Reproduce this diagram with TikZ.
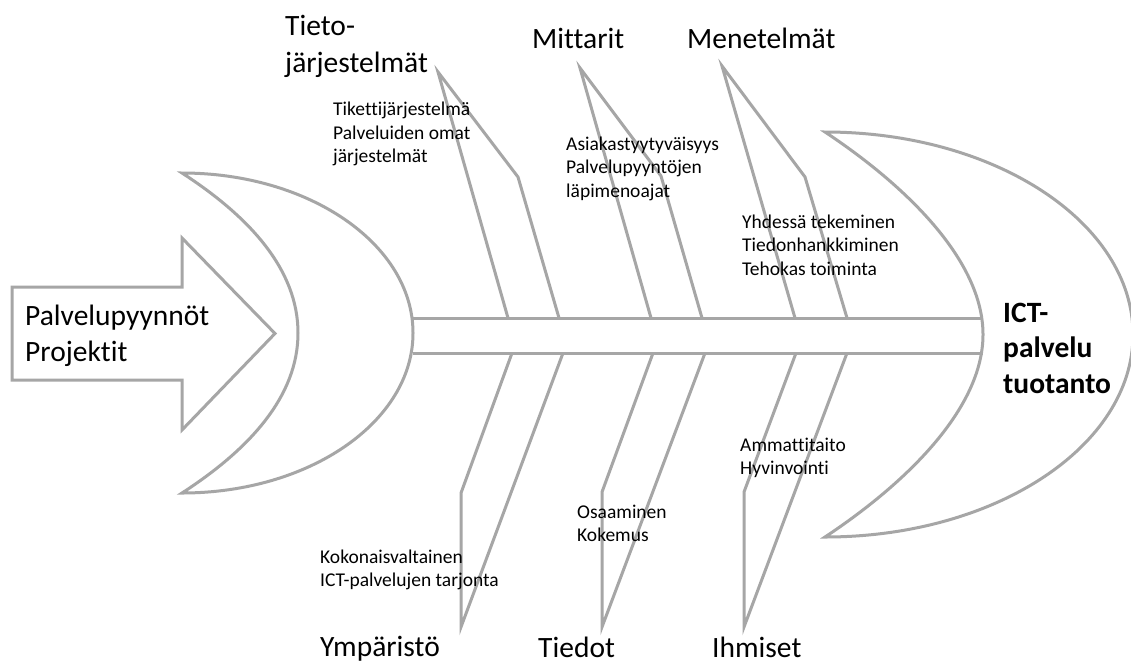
\documentclass[tikz,border=0pt]{standalone}
\usepackage{fontspec}
\setmainfont{Carlito}[Ligatures={NoCommon}]
\definecolor{bone}{RGB}{166,166,166}
\tikzset{
  shapeline/.style={draw=bone, line width=3pt, fill=white, line join=miter},
  boneline/.style={draw=bone, line width=3pt, line join=miter},
  bigtxt/.style={anchor=base west, inner sep=0pt, font=\fontsize{29.5}{35}\selectfont},
  smalltxt/.style={anchor=base west, inner sep=0pt, font=\fontsize{19.5}{23.5}\selectfont},
  headtxt/.style={anchor=base west, inner sep=0pt, font=\bfseries\fontsize{29.5}{35}\selectfont},
}
\begin{document}
\begin{tikzpicture}[x=1pt,y=-1pt]
\useasboundingbox[fill=white] (0,0) rectangle (1131,664);

% tail fin
\path[shapeline] (182,173) .. controls (309.6,173) and (413,244.6) .. (413,333)
  .. controls (413,421.4) and (309.6,493) .. (182,493)
  .. controls (250,449) and (298,396) .. (298,333)
  .. controls (298,270) and (250,217) .. cycle;

% head
\path[shapeline] (825,132) .. controls (995,132) and (1133,222.7) .. (1133,334.5)
  .. controls (1133,446.3) and (995,537) .. (825,537)
  .. controls (905,484) and (983,409) .. (983,334.5)
  .. controls (983,260) and (905,185) .. cycle;

% input arrow
\path[shapeline] (12,287) -- (182,287) -- (182,238) -- (275,333.5) -- (182,430)
  -- (182,380) -- (12,380) -- cycle;

% spine
\coordinate (sTL) at (413,318); \coordinate (sTR) at (983,318);
\coordinate (sBL) at (413,353); \coordinate (sBR) at (983,353);
\draw[boneline] (sTL) -- (sTR);
\draw[boneline] (sBL) -- (sBR);

% upper bones: left foot, apex, bend, right foot
\coordinate (a1) at (508,318); \coordinate (a2) at (438,72);
\coordinate (a3) at (518,177); \coordinate (a4) at (559,318);
\coordinate (b1) at (651,318); \coordinate (b2) at (580,68);
\coordinate (b3) at (661,176); \coordinate (b4) at (702,318);
\coordinate (c1) at (795,318); \coordinate (c2) at (722,66);
\coordinate (c3) at (805,177); \coordinate (c4) at (847,318);
\draw[boneline] (a1) -- (a2) -- (a3) -- (a4);
\draw[boneline] (b1) -- (b2) -- (b3) -- (b4);
\draw[boneline] (c1) -- (c2) -- (c3) -- (c4);

% lower bones: left foot, knee, apex, right foot
\coordinate (d1) at (512,353); \coordinate (d2) at (461,493);
\coordinate (d3) at (461,627); \coordinate (d4) at (563,353);
\coordinate (e1) at (653,353); \coordinate (e2) at (602,492);
\coordinate (e3) at (602,627); \coordinate (e4) at (705,353);
\coordinate (f1) at (796,353); \coordinate (f2) at (744,492);
\coordinate (f3) at (744,627); \coordinate (f4) at (847,353);
\draw[boneline] (d1) -- (d2) -- (d3) -- (d4);
\draw[boneline] (e1) -- (e2) -- (e3) -- (e4);
\draw[boneline] (f1) -- (f2) -- (f3) -- (f4);

% category titles
\node[bigtxt] (tieto1) at (285,35) {Tieto-};
\node[bigtxt] (tieto2) at (285,72) {järjestelmät};
\node[bigtxt] (mitt) at (532,48) {Mittarit};
\node[bigtxt] (menet) at (687,48) {Menetelmät};
\node[bigtxt] (ymp) at (320,656) {Ympäristö};
\node[bigtxt] (tied) at (538,657) {Tiedot};
\node[bigtxt] (ihm) at (712,657) {Ihmiset};

% input and result
\node[bigtxt] (in1) at (25,325) {Palvelupyynnöt};
\node[bigtxt] (in2) at (25,361) {Projektit};
\node[headtxt] (out1) at (1003,322) {ICT-};
\node[headtxt] (out2) at (1003,357) {palvelu};
\node[headtxt] (out3) at (1003,393) {tuotanto};

% causes
\node[smalltxt] (ta1) at (333,115.5) {Tikettijärjestelmä};
\node[smalltxt] (ta2) at (333,139) {Palveluiden omat};
\node[smalltxt] (ta3) at (333,162.5) {järjestelmät};
\node[smalltxt] (mb1) at (566,150) {Asiakastyytyväisyys};
\node[smalltxt] (mb2) at (566,173.5) {Palvelupyyntöjen};
\node[smalltxt] (mb3) at (566,197) {läpimenoajat};
\node[smalltxt] (mc1) at (742,228) {Yhdessä tekeminen};
\node[smalltxt] (mc2) at (742,251.5) {Tiedonhankkiminen};
\node[smalltxt] (mc3) at (742,275) {Tehokas toiminta};
\node[smalltxt] (yd1) at (320,563) {Kokonaisvaltainen};
\node[smalltxt] (yd2) at (320,586.5) {ICT-palvelujen tarjonta};
\node[smalltxt] (te1) at (577,518) {Osaaminen};
\node[smalltxt] (te2) at (577,541.5) {Kokemus};
\node[smalltxt] (ih1) at (740,451) {Ammattitaito};
\node[smalltxt] (ih2) at (740,474.5) {Hyvinvointi};
\end{tikzpicture}
\end{document}
